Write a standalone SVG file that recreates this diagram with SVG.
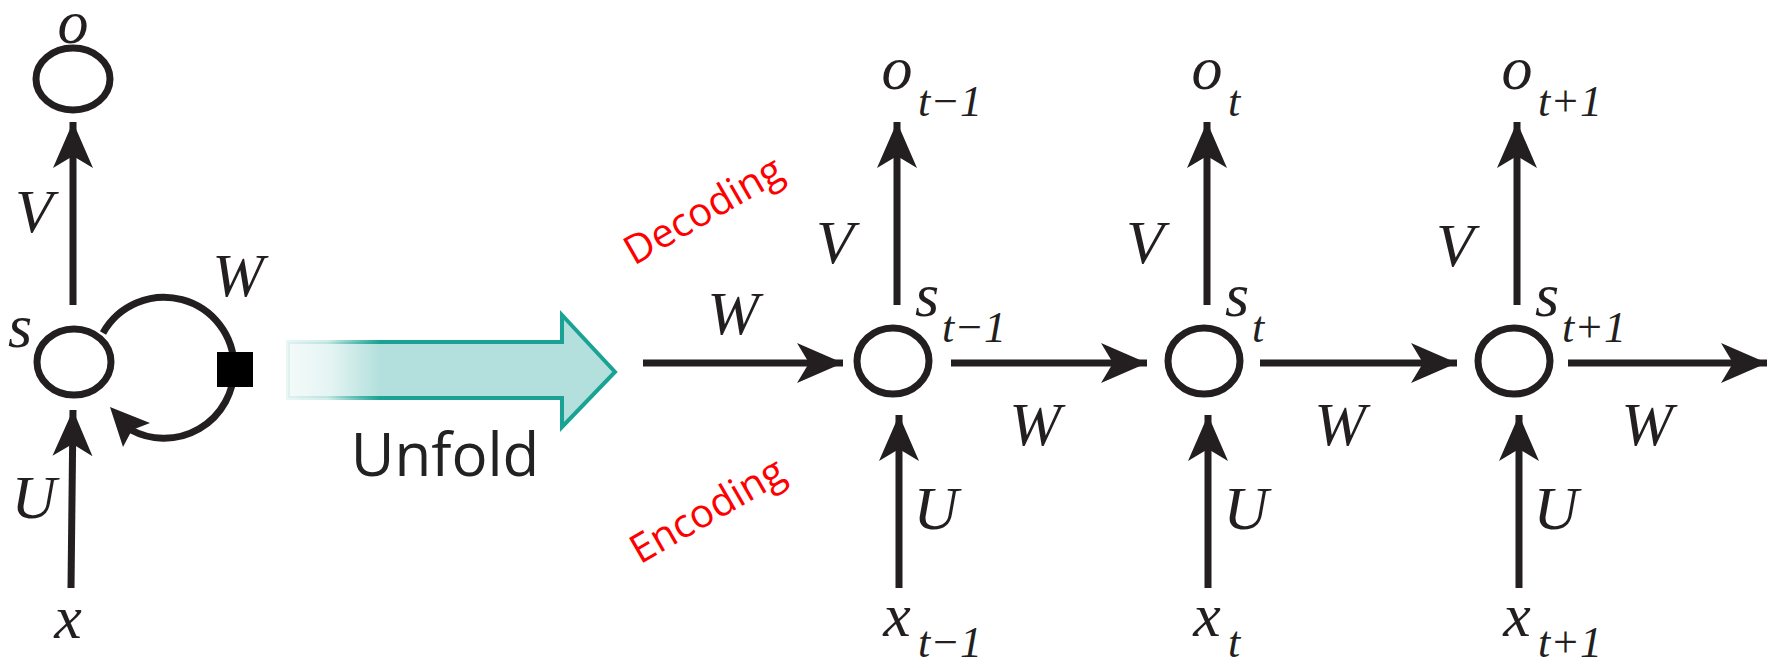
<svg xmlns="http://www.w3.org/2000/svg" width="1769" height="668" viewBox="0 0 1769 668">
<defs>
<style>
.ln{stroke:#231f20;stroke-width:7;fill:none}
.nd{stroke:#231f20;stroke-width:7;fill:#fff}
.m{font-family:"Liberation Serif",serif;font-style:italic;fill:#231f20}
.big{font-size:62px}
.sub{font-size:44px}
.red{font-family:"Open Sans",sans-serif;font-size:40px;fill:#ff0000}
</style>
<marker id="ah" markerUnits="userSpaceOnUse" markerWidth="56" markerHeight="48" viewBox="-48 -24 52 48" refX="0" refY="0" orient="auto">
<path d="M0,0 L-46,-20 L-34,0 L-46,20 Z" fill="#231f20"/>
</marker>
<linearGradient id="gf" x1="288" y1="0" x2="615" y2="0" gradientUnits="userSpaceOnUse">
<stop offset="0" stop-color="#b3e0dc" stop-opacity="0.15"/>
<stop offset="0.13" stop-color="#b3e0dc" stop-opacity="0.35"/>
<stop offset="0.28" stop-color="#b3e0dc" stop-opacity="1"/>
<stop offset="1" stop-color="#b3e0dc" stop-opacity="1"/>
</linearGradient>
<linearGradient id="gs" x1="288" y1="0" x2="615" y2="0" gradientUnits="userSpaceOnUse">
<stop offset="0" stop-color="#1aa394" stop-opacity="0.1"/>
<stop offset="0.12" stop-color="#1aa394" stop-opacity="0.2"/>
<stop offset="0.28" stop-color="#1aa394" stop-opacity="1"/>
<stop offset="1" stop-color="#1aa394" stop-opacity="1"/>
</linearGradient>
</defs>
<rect width="1769" height="668" fill="#fff"/>

<g id="connectors">
<line class="ln" x1="73" y1="305" x2="73" y2="122" marker-end="url(#ah)"/>
<line class="ln" x1="71" y1="588" x2="73" y2="410" marker-end="url(#ah)"/>
<path class="ln" d="M103,333 A70,70 0 0 1 234,368"/>
<path class="ln" d="M234,370 A70,70 0 0 1 131,430"/>
<polygon points="110,407 123,447 132,430 150,423" fill="#231f20"/>
<line class="ln" x1="643" y1="363" x2="843" y2="363" marker-end="url(#ah)"/>
<line class="ln" x1="951" y1="363" x2="1147" y2="363" marker-end="url(#ah)"/>
<line class="ln" x1="1260" y1="363" x2="1457" y2="363" marker-end="url(#ah)"/>
<line class="ln" x1="1568" y1="363" x2="1767" y2="363" marker-end="url(#ah)"/>
<line class="ln" x1="897" y1="305" x2="897" y2="122" marker-end="url(#ah)"/>
<line class="ln" x1="1207" y1="305" x2="1207" y2="122" marker-end="url(#ah)"/>
<line class="ln" x1="1517" y1="305" x2="1517" y2="122" marker-end="url(#ah)"/>
<line class="ln" x1="899" y1="588" x2="899" y2="415" marker-end="url(#ah)"/>
<line class="ln" x1="1208" y1="588" x2="1208" y2="415" marker-end="url(#ah)"/>
<line class="ln" x1="1519" y1="588" x2="1519" y2="415" marker-end="url(#ah)"/>
</g>

<g id="node-o">
<ellipse class="nd" cx="73" cy="79" rx="37" ry="31"/>
<text class="m big" x="73" y="43" text-anchor="middle">o</text>
</g>
<g id="node-s">
<ellipse class="nd" cx="74" cy="362" rx="37" ry="33"/>
<text class="m big" x="20" y="347" text-anchor="middle">s</text>
</g>
<g id="delay">
<rect x="217" y="352" width="36" height="35" fill="#000"/>
</g>
<g id="labels-left">
<text class="m big" x="34" y="232" text-anchor="middle">V</text>
<text class="m big" x="238" y="296" text-anchor="middle">W</text>
<text class="m big" x="34" y="518" text-anchor="middle">U</text>
<text class="m big" x="68" y="638" text-anchor="middle">x</text>
</g>

<g id="unfold">
<path d="M288,342 L562,342 L562,315 L615,372 L562,427 L562,398 L288,398 Z" fill="url(#gf)" stroke="url(#gs)" stroke-width="4" stroke-linejoin="miter"/>
<text x="445" y="476" text-anchor="middle" font-family="'Open Sans',sans-serif" font-size="60" fill="#222">Unfold</text>
</g>

<g id="annot">
<text class="red" transform="translate(710,222) rotate(-30)" text-anchor="middle">Decoding</text>
<text class="red" transform="translate(714,522) rotate(-30)" text-anchor="middle">Encoding</text>
</g>

<g id="node-st1">
<ellipse class="nd" cx="893" cy="361" rx="36" ry="33"/>
<text class="m big" x="927" y="316" text-anchor="middle">s</text>
<text class="m sub" x="942" y="342">t−1</text>
</g>
<g id="node-st">
<ellipse class="nd" cx="1204" cy="361" rx="36" ry="33"/>
<text class="m big" x="1237" y="316" text-anchor="middle">s</text>
<text class="m sub" x="1252" y="342">t</text>
</g>
<g id="node-st2">
<ellipse class="nd" cx="1514" cy="361" rx="36" ry="33"/>
<text class="m big" x="1547" y="316" text-anchor="middle">s</text>
<text class="m sub" x="1562" y="342">t+1</text>
</g>

<g id="outputs">
<text class="m big" x="897" y="89" text-anchor="middle">o</text>
<text class="m sub" x="918" y="116">t−1</text>
<text class="m big" x="1207" y="89" text-anchor="middle">o</text>
<text class="m sub" x="1228" y="116">t</text>
<text class="m big" x="1517" y="89" text-anchor="middle">o</text>
<text class="m sub" x="1538" y="116">t+1</text>
</g>
<g id="inputs">
<text class="m big" x="897" y="636" text-anchor="middle">x</text>
<text class="m sub" x="918" y="657">t−1</text>
<text class="m big" x="1207" y="636" text-anchor="middle">x</text>
<text class="m sub" x="1228" y="657">t</text>
<text class="m big" x="1517" y="636" text-anchor="middle">x</text>
<text class="m sub" x="1538" y="657">t+1</text>
</g>
<g id="weights">
<text class="m big" x="733" y="334" text-anchor="middle">W</text>
<text class="m big" x="1035" y="445" text-anchor="middle">W</text>
<text class="m big" x="1340" y="445" text-anchor="middle">W</text>
<text class="m big" x="1647" y="445" text-anchor="middle">W</text>
<text class="m big" x="835" y="263" text-anchor="middle">V</text>
<text class="m big" x="1145" y="263" text-anchor="middle">V</text>
<text class="m big" x="1455" y="266" text-anchor="middle">V</text>
<text class="m big" x="936" y="529" text-anchor="middle">U</text>
<text class="m big" x="1246" y="529" text-anchor="middle">U</text>
<text class="m big" x="1556" y="529" text-anchor="middle">U</text>
</g>
</svg>
